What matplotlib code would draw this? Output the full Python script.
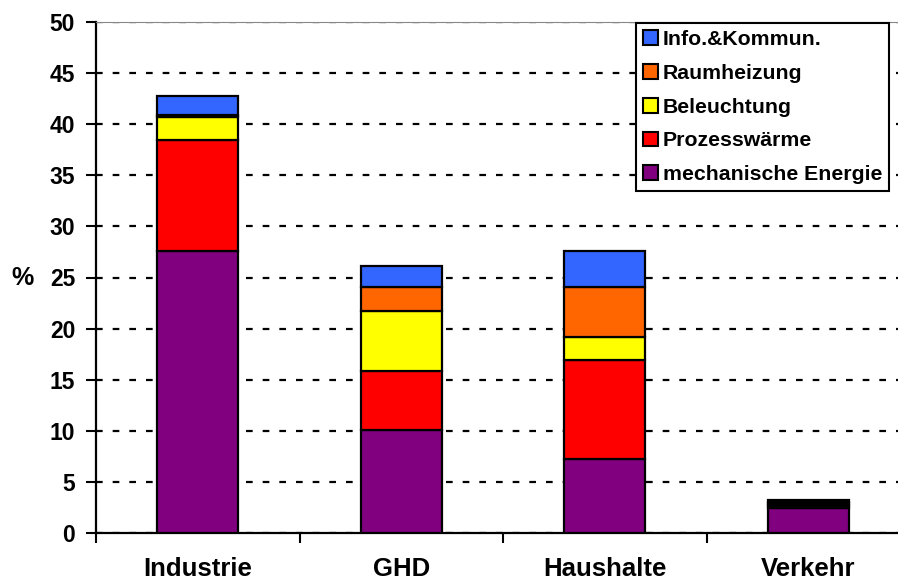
import matplotlib
matplotlib.use('Agg')  # noqa
import matplotlib.pyplot as plt
from matplotlib.patches import Patch
import numpy as np

plt.rcParams['font.family'] = ['Liberation Sans', 'DejaVu Sans']
plt.rcParams['font.weight'] = 'bold'

sectors = ['Industrie', 'GHD', 'Haushalte', 'Verkehr']
uses = ['mechanische Energie', 'Prozesswärme', 'Beleuchtung',
        'Raumheizung', 'Info.&Kommun.']
colors = ['#800080', '#FF0000', '#FFFF00', '#FF6600', '#3366FF']

mech = [27.6, 10.1, 7.2, 2.45]
prozess = [10.9, 5.8, 9.7, 0.2]
licht = [2.2, 5.85, 2.3, 0.2]
heizung = [0.2, 2.35, 4.9, 0.15]
info = [1.9, 2.0, 3.45, 0.25]
series = [mech, prozess, licht, heizung, info]

fig = plt.figure(figsize=(8.98, 5.85), dpi=100)
ax = fig.add_axes([96 / 898, 1 - 533 / 585, 814 / 898, 511 / 585])

x = np.arange(len(sectors))
bottom = np.zeros(len(sectors))
for vals, col in zip(series, colors):
    ax.bar(x, vals, 0.4, bottom=bottom, color=col, edgecolor='black',
           linewidth=1.6, zorder=3)
    bottom += np.array(vals)

ax.set_xlim(-0.5, 3.5)
ax.set_ylim(0, 50)
ax.set_yticks(range(0, 51, 5))
ax.yaxis.grid(True, color='black', linewidth=1.6, linestyle=(0, (3, 4.5)),
              zorder=1)
ax.set_xticks(x)
ax.set_xticklabels(sectors, fontsize=18.5, fontweight='bold')
ax.tick_params(axis='x', which='major', length=0, pad=17)
ax.set_xticks([-0.5, 0.5, 1.5, 2.5], minor=True)
ax.tick_params(axis='x', which='minor', length=7, width=1.5, direction='out')
ax.tick_params(axis='y', length=7, width=1.5, direction='out', pad=8,
               labelsize=16.5)
for lab in ax.get_yticklabels():
    lab.set_fontweight('bold')

ax.spines['left'].set_linewidth(1.6)
ax.spines['bottom'].set_linewidth(1.6)
ax.spines['top'].set_color('#888888')
ax.spines['right'].set_visible(False)

fig.text(23 / 898, 1 - 278 / 585, '%', fontsize=18, fontweight='bold',
         ha='center', va='center')

handles = [Patch(facecolor=c, edgecolor='black', linewidth=1.5)
           for c in colors]
leg = ax.legend(handles[::-1], uses[::-1], loc='upper right',
                bbox_to_anchor=(889 / 898, 1 - 23 / 585),
                bbox_transform=fig.transFigure, borderaxespad=0,
                fancybox=False, framealpha=1, edgecolor='black',
                prop={'size': 15.3, 'weight': 'bold'},
                handlelength=0.7, handleheight=0.7, handletextpad=0.25,
                labelspacing=0.7, borderpad=0.32)
leg.get_frame().set_linewidth(1.5)
leg.set_zorder(5)

plt.savefig('out.png', dpi=100)
